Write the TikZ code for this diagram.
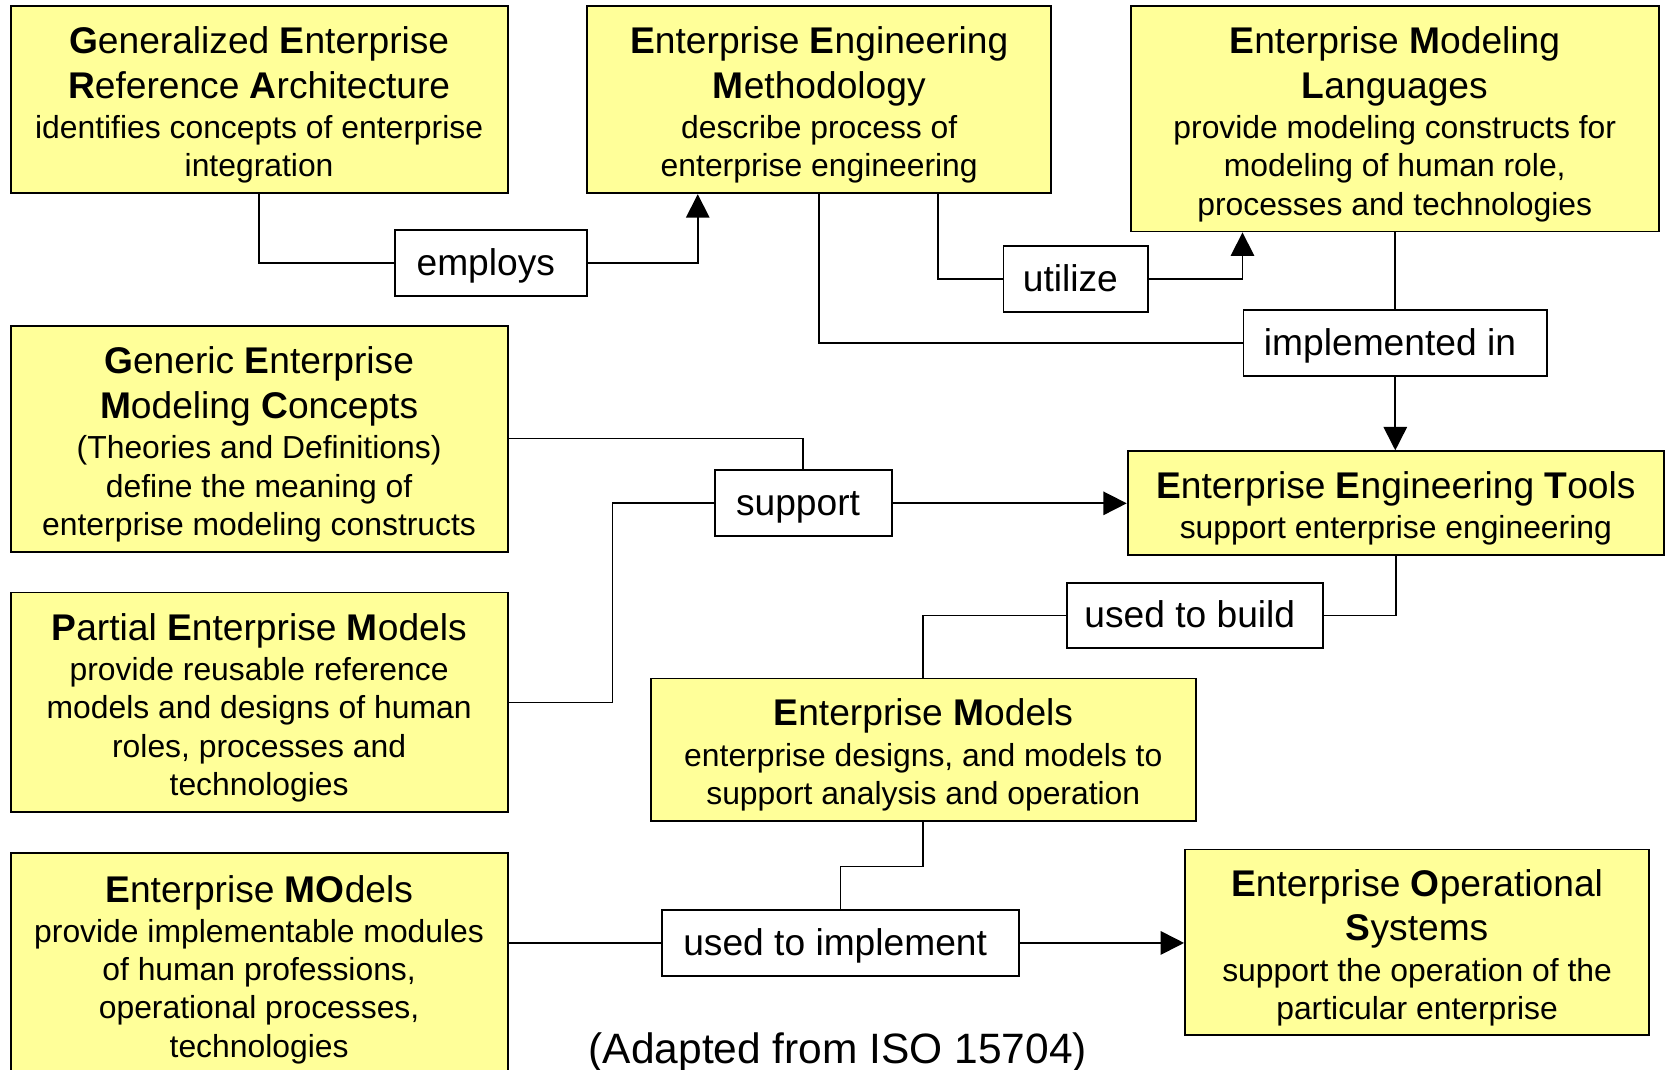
\documentclass[tikz,border=0pt]{standalone}
\usepackage{fontspec}
\setmainfont{Liberation Sans}
\usetikzlibrary{arrows.meta,calc}
\definecolor{yfill}{RGB}{255,255,153}
\newcommand{\ttl}{\fontsize{35}{42}\selectfont}
\newcommand{\bdy}{\fontsize{30}{36}\selectfont}
\newcommand{\boxtext}[2]{\parbox{#1}{\centering\vspace*{10pt}#2}}
\newcommand{\midgap}{\vspace{2pt}}
\newcommand{\lft}{\hspace*{-10pt}}
\begin{document}
\begin{tikzpicture}[x=1pt,y=-1pt,
  ybox/.style={draw, line width=1.8pt, fill=yfill, inner sep=0pt},
  lbl/.style={draw, line width=1.8pt, fill=white, inner sep=0pt, text height=31pt, text depth=7.3pt, font=\fontsize{35}{42}\selectfont},
  conn/.style={line width=1.6pt},
  arr/.style={line width=1.6pt, -{Triangle[length=22pt,width=22pt]}}]
\useasboundingbox (0,0) rectangle (1568,1007);
\clip (0,0) rectangle (1568,1007);
% main boxes
\node[ybox, minimum width=468pt, minimum height=176pt] (gera) at (244,94)
  {\boxtext{458pt}{{\ttl\textbf{G}eneralized \textbf{E}nterprise\\\textbf{R}eference \textbf{A}rchitecture\par}\midgap{\bdy identifies concepts of enterprise\\integration\par}}};
\node[ybox, minimum width=437pt, minimum height=176pt] (eem) at (771.5,94)
  {\boxtext{427pt}{{\ttl\textbf{E}nterprise \textbf{E}ngineering\\\textbf{M}ethodology\par}\midgap{\bdy describe process of\\enterprise engineering\par}}};
\node[ybox, minimum width=497pt, minimum height=212pt] (eml) at (1313.5,112)
  {\boxtext{487pt}{{\ttl\textbf{E}nterprise \textbf{M}odeling\\\textbf{L}anguages\par}\midgap{\bdy provide modeling constructs for\\modeling of human role,\\processes and technologies\par}}};
\node[ybox, minimum width=468pt, minimum height=213pt] (gemc) at (244,413.5)
  {\boxtext{458pt}{{\ttl\textbf{G}eneric \textbf{E}nterprise\\\textbf{M}odeling \textbf{C}oncepts\par}\midgap{\bdy (Theories and Definitions)\\define the meaning of\\enterprise modeling constructs\par}}};
\node[ybox, minimum width=468pt, minimum height=207pt] (pem) at (244,661.5)
  {\boxtext{458pt}{{\ttl\textbf{P}artial \textbf{E}nterprise \textbf{M}odels\par}\midgap{\bdy provide reusable reference\\models and designs of human\\roles, processes and\\technologies\par}}};
\node[ybox, minimum width=468pt, minimum height=210pt] (emo) at (244,908)
  {\boxtext{458pt}{{\ttl\textbf{E}nterprise \textbf{MO}dels\par}\midgap{\bdy provide implementable modules\\of human professions,\\operational processes,\\technologies\par}}};
\node[ybox, minimum width=505pt, minimum height=98pt] (eet) at (1314.5,474)
  {\boxtext{495pt}{{\ttl\textbf{E}nterprise \textbf{E}ngineering \textbf{T}ools\par}\midgap{\bdy support enterprise engineering\par}}};
\node[ybox, minimum width=513pt, minimum height=134pt] (em) at (869.5,706)
  {\boxtext{503pt}{{\ttl\textbf{E}nterprise \textbf{M}odels\par}\midgap{\bdy enterprise designs, and models to\\support analysis and operation\par}}};
\node[ybox, minimum width=437pt, minimum height=175pt] (eos) at (1334.5,887.5)
  {\boxtext{427pt}{{\ttl\textbf{E}nterprise \textbf{O}perational\\\textbf{S}ystems\par}\midgap{\bdy support the operation of the\\particular enterprise\par}}};
% label boxes
\node[lbl, minimum width=181pt, minimum height=62pt] (employs) at (462.5,248) {\lft employs};
\node[lbl, minimum width=136pt, minimum height=62pt] (utilize) at (1013,263) {\lft utilize};
\node[lbl, minimum width=286pt, minimum height=62pt] (impl) at (1314,323) {\lft implemented in};
\node[lbl, minimum width=167pt, minimum height=62pt] (support) at (756.5,474) {\lft support};
\node[lbl, minimum width=241pt, minimum height=61pt] (build) at (1125.5,579.5) {\lft used to build};
\node[lbl, minimum width=337pt, minimum height=62pt] (uimpl) at (791.5,888) {\lft used to implement};
% caption
\node[font=\fontsize{40}{48}\selectfont, inner sep=0pt] (cap) at (789,991) {(Adapted from ISO 15704)};
% connectors
\draw[conn] (gera.south) |- (employs.west);
\draw[arr] (employs.east) -| ([xshift=105pt]eem.south west);
\draw[conn] ([xshift=331pt]eem.south west) |- (utilize.west);
\draw[arr] (utilize.east) -| ([xshift=106pt]eml.south west);
\draw[conn] (eem.south) |- (impl.west);
\draw[conn] (eml.south -| impl.north) -- (impl.north);
\draw[arr] (impl.south) -- (impl.south |- eet.north);
\draw[conn] (gemc.east |- 0,413) -| (support.north);
\draw[conn] (pem.east) -- ++(98,0) |- (support.west);
\draw[arr] (support.east) -- (support.east -| eet.west);
\draw[conn] (eet.south) |- (build.east);
\draw[conn] (build.west) -| (em.north);
\draw[conn] (em.south) -- ++(0,42) -| (uimpl.north);
\draw[conn] (uimpl.west -| emo.east) -- (uimpl.west);
\draw[arr] (uimpl.east) -- (uimpl.east -| eos.west);
\end{tikzpicture}
\end{document}
